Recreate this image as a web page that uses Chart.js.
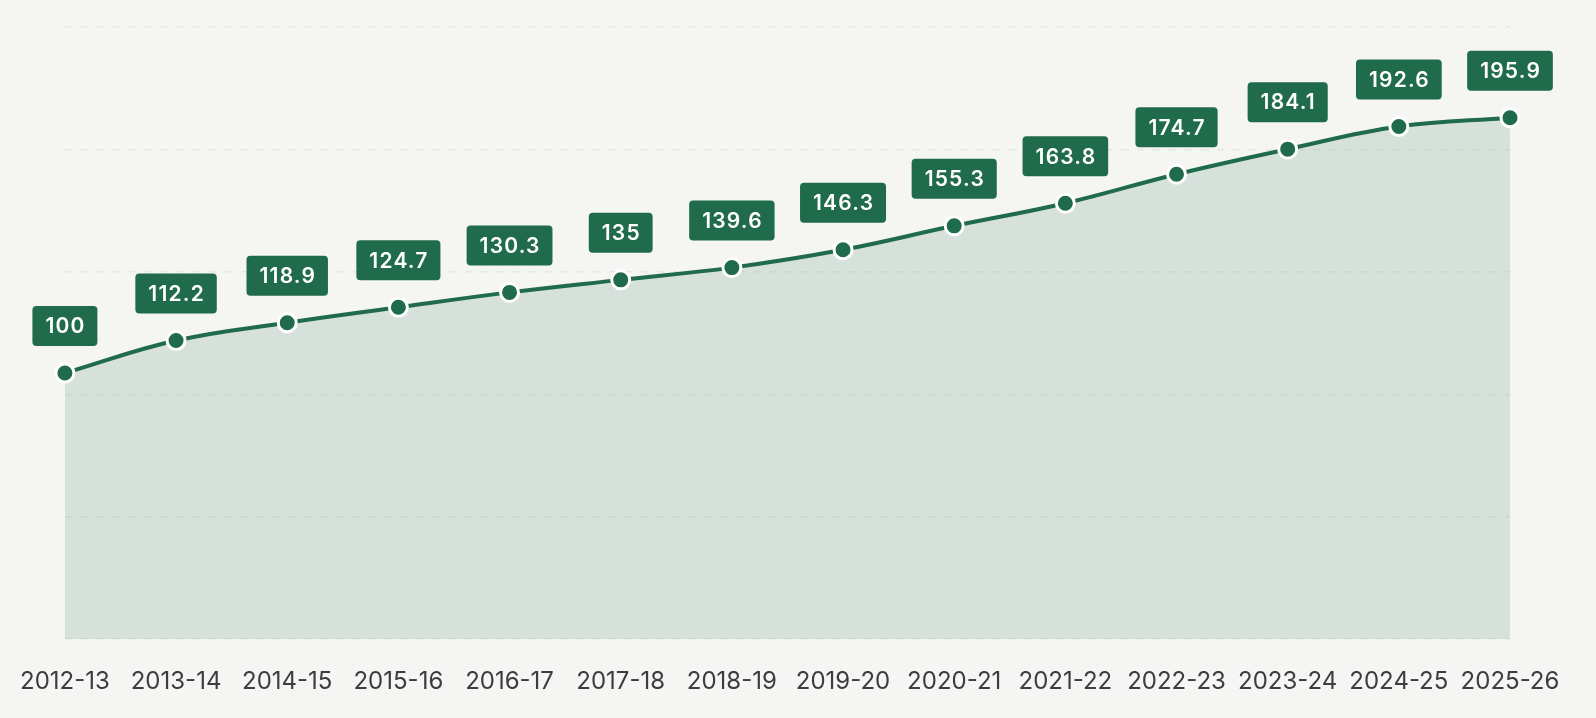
<!DOCTYPE html>
<html>
<head>
<meta charset="utf-8">
<script src="https://cdn.jsdelivr.net/npm/chart.js@4.4.1/dist/chart.umd.min.js"></script>
<style>
  html, body { margin: 0; padding: 0; background: #f5f5f3; }
  #wrap { width: 1596px; height: 718px; position: relative; }
</style>
</head>
<body>
<div id="wrap"><canvas id="indexChart"></canvas></div>
<script>
// financial years
const years = [
  '2012-13', '2013-14', '2014-15', '2015-16', '2016-17', '2017-18', '2018-19',
  '2019-20', '2020-21', '2021-22', '2022-23', '2023-24', '2024-25', '2025-26'
];

// index values (2012-13 = 100)
const indexValues = [
  100, 112.2, 118.9, 124.7, 130.3, 135, 139.6,
  146.3, 155.3, 163.8, 174.7, 184.1, 192.6, 195.9
];

const yMin = 0;
const yMax = 230;

const green = '#1f6b4b';

// value boxes above each point
const valueBoxes = {
  id: 'valueBoxes',
  afterDatasetsDraw(chart) {
    const ctx = chart.ctx;
    const meta = chart.getDatasetMeta(0);
    const sp = 1.2;
    ctx.save();
    ctx.font = '600 21px Inter';
    ctx.letterSpacing = sp + 'px';
    ctx.textAlign = 'center';
    ctx.textBaseline = 'middle';
    meta.data.forEach(function(pt, i){
      const txt = String(indexValues[i]);
      const tw = ctx.measureText(txt).width - sp;
      const w = tw + 26;
      const h = 40;
      const bottom = pt.y - 27;
      ctx.fillStyle = green;
      ctx.beginPath();
      ctx.roundRect(pt.x - w / 2, bottom - h, w, h, 4);
      ctx.fill();
      ctx.fillStyle = '#ffffff';
      ctx.fillText(txt, pt.x + sp / 2, bottom - h / 2 + 1);
    });
    ctx.restore();
  }
};

const el = document.getElementById('indexChart');

new Chart(el, {
  type: 'line',
  data: {
    labels: years,
    datasets: [{
      label: 'Index',
      data: indexValues,
      borderColor: green,
      borderWidth: 4,
      backgroundColor: 'rgba(31,107,75,0.14)',
      fill: 'origin',
      tension: 0.4,
      pointRadius: 9,
      pointHoverRadius: 9,
      pointBackgroundColor: green,
      pointBorderColor: '#ffffff',
      pointBorderWidth: 3
    }]
  },
  options: {
    responsive: true,
    maintainAspectRatio: false,
    animation: false,
    layout: {
      padding: { top: 27, left: 64, right: 86, bottom: 2 }
    },
    plugins: {
      legend: { display: false },
      tooltip: { enabled: false }
    },
    scales: {
      x: {
        offset: false,
        grid: { display: false },
        border: { display: false },
        ticks: {
          color: '#3a3e3e',
          font: { family: 'Inter', size: 24 },
          padding: 20,
          maxRotation: 0,
          autoSkip: false
        }
      },
      y: {
        min: yMin,
        max: yMax,
        grid: {
          color: 'rgba(0,0,0,0.06)',
          lineWidth: 1.5,
          drawTicks: false
        },
        border: { display: false, dash: [8, 8] },
        ticks: { display: false, count: 6 }
      }
    }
  },
  plugins: [valueBoxes]
});
</script>
</body>
</html>
